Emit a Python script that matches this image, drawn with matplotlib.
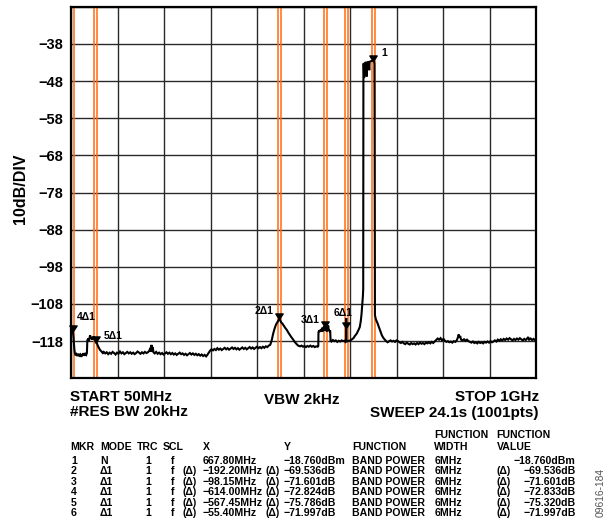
import numpy as np
import matplotlib
matplotlib.use("Agg")
import matplotlib.pyplot as plt

plt.rcParams['font.family'] = ['Liberation Sans', 'DejaVu Sans']
plt.rcParams['font.weight'] = 'bold'

# ---------------- data ----------------
START_MHZ = 50.0
STOP_MHZ = 1000.0
Y_TICKS = [-118, -108, -98, -88, -78, -68, -58, -48, -38]
Y_MIN, Y_MAX = -128, -28
DISPLAY_OFFSET = -23.74   # screen level minus marker dBm reading
BAND_WIDTH_MHZ = 6.0

FREQ_MHZ = [
    50.0, 51.0, 52.0, 53.0, 54.0, 55.0, 56.0, 57.0, 58.0, 59.5,
    61, 63, 65, 67, 69, 71, 73, 75, 77, 79, 81, 82.5, 83.4, 85, 86.5, 88, 89, 90.5,
    92, 93.5, 95, 96.5, 98, 99.5, 100.4, 101.5, 103, 105, 107, 109, 111, 113, 115,
    117, 120, 123, 126, 129, 132, 135, 138, 141, 144, 147, 150, 153, 156, 159, 162,
    165, 168, 171, 174, 177, 180, 183, 186, 189, 192, 195, 198, 201, 204, 207, 210,
    212, 213, 214.5, 215.5, 217, 218.5,
    221, 224, 227, 230, 233, 236, 239, 242, 245, 248, 251, 254, 257, 260, 263, 266,
    269, 272, 275, 278, 281, 284, 287, 290, 293, 296, 299, 302, 305, 308, 311, 314,
    317, 320, 323, 326, 328,
    331, 334, 337, 340, 343, 346, 349, 352, 355, 358, 361, 364, 367, 370, 373, 376,
    379, 382, 385, 388, 391, 394, 397, 400, 403, 406, 409, 412, 415, 418, 421, 424,
    427, 430, 433, 436, 439, 442, 445, 448, 451, 454, 457, 460, 463, 466, 469, 472,
    474, 475.6, 477, 479, 482, 485, 488, 491, 494, 497, 500, 504, 507, 511, 514, 518,
    521, 524, 527, 530, 533, 536, 539, 542, 545, 548, 551, 554, 555.2, 555.6, 557,
    558.5, 560, 561.5, 563, 564, 565.5, 567, 568, 569.6, 571, 572.5, 574, 575.5,
    576.5, 578, 579.5, 580.3, 582, 585, 588, 591, 594, 597, 600, 603, 606, 608.5,
    610.5, 611.8, 612.2, 612.6, 614, 617, 620, 623, 627, 630, 633.6, 637, 640, 642,
    643.5, 645, 646.3, 647.0, 647.4, 648.2, 648.8, 649.4, 651, 652.6, 653.4, 654,
    654.7, 656.5, 658.2, 659.4, 660.2, 662, 664, 666, 667.8, 669.2, 669.9, 670.3,
    670.9, 673, 676, 679, 682, 685, 688, 691, 694, 697, 700, 703, 706, 709, 712, 715,
    718, 721, 724, 727, 730, 733, 736, 739, 742, 745, 748, 751, 754, 757, 760, 763,
    766, 769, 772, 775, 778, 781, 784, 787, 790, 793, 796, 799, 802, 805, 808, 811,
    814, 817, 820, 823, 826, 829, 832, 835, 838, 840.5, 842, 843.5, 845, 847, 850,
    853, 856, 859, 862, 865, 868, 871, 874, 877, 880, 883, 886, 889, 892, 895, 898,
    901, 904, 907, 910, 913, 916, 919, 922, 925, 928, 931, 934, 937, 940, 943, 946,
    949, 952, 955, 958, 961, 964, 967, 970, 973, 976, 979, 982, 984, 986, 989, 992,
    995, 998, 1000,
]
LEVEL_DB = [
    -113.6, -114.3, -114.8, -115.2, -115.6, -116.8, -118.6, -120.4, -121.3, -121.8,
    -121.5, -122.0, -121.4, -121.9, -121.6, -122.2, -121.7, -121.3, -121.9, -121.4, -121.7, -121.2, -117.8, -117.3, -118.0, -117.1, -116.4, -117.4,
    -116.9, -117.6, -117.2, -116.7, -117.5, -117.9, -118.2, -118.0, -118.6, -119.3, -119.8, -120.3, -120.6, -120.9, -121.2,
    -120.9, -121.3, -121.0, -121.5, -121.1, -121.4, -120.9, -121.2, -121.6, -121.1, -121.4, -120.8, -121.3, -121.0, -121.5, -121.2,
    -120.9, -121.3, -121.0, -121.4, -121.1, -121.5, -121.2, -120.8, -121.1, -121.4, -121.0, -121.3, -120.9, -121.2, -121.0, -120.6,
    -119.8, -120.9, -119.0, -120.7, -119.6, -121.0,
    -121.3, -120.9, -121.4, -121.1, -121.5, -121.2, -121.6, -121.3, -121.0, -121.4, -121.1, -121.5, -121.2, -121.6, -121.3, -121.7,
    -121.4, -121.1, -121.5, -121.3, -121.7, -121.4, -121.8, -121.5, -121.2, -121.6, -121.3, -121.7, -121.4, -121.8, -121.5, -121.9,
    -121.6, -122.0, -121.7, -122.1, -121.8,
    -121.2, -120.6, -120.2, -120.5, -120.1, -120.4, -119.9, -120.3, -120.0, -120.4, -120.1, -119.8, -120.2, -119.9, -120.3, -120.0,
    -119.7, -120.1, -119.8, -120.2, -119.9, -120.3, -120.0, -119.7, -120.1, -119.8, -120.2, -119.9, -119.6, -120.0, -119.7, -120.1,
    -119.8, -119.5, -119.9, -119.6, -119.9, -119.5, -119.8, -119.4, -119.6, -119.2, -119.0, -117.8, -116.0, -114.6, -113.5, -112.8,
    -112.3, -112.0, -112.3, -112.9, -113.3, -113.9, -114.5, -115.0, -115.7, -116.3, -116.9, -117.6, -118.2, -118.8, -119.2, -119.4,
    -119.2, -119.5, -119.3, -119.6, -119.3, -119.5, -119.2, -119.5, -119.3, -119.6, -119.4, -119.5, -119.3, -115.6, -115.1,
    -115.5, -114.9, -115.3, -114.4, -115.4, -114.7, -113.9, -115.2, -114.1, -114.3, -115.4, -114.5, -113.8,
    -115.0, -115.3, -115.1, -117.9, -118.1, -117.7, -118.0, -117.8, -118.2, -117.9, -118.1, -117.8, -118.0, -117.9,
    -118.2, -117.9, -111.8, -118.0, -118.1, -117.9, -117.9, -117.6, -117.2, -116.6, -116.0, -115.1, -114.2, -112.6,
    -110.8, -108.4, -106.0, -104.0, -43.6, -43.2, -47.2, -43.3, -43.1, -43.4, -43.0, -46.8,
    -43.0, -42.9, -43.2, -45.1, -42.8, -42.7, -42.6, -42.5, -42.5, -42.8, -43.4, -62.0,
    -111.0, -112.2, -113.1, -114.2, -115.3, -116.4, -117.1, -117.6, -118.0, -118.3, -118.0, -117.8, -118.1, -117.9, -118.2, -117.8,
    -118.0, -118.3, -118.5, -118.2, -118.6, -118.8, -118.4, -118.7, -118.9, -118.5, -118.8, -118.6, -118.9, -118.5, -118.8, -118.4,
    -118.7, -118.5, -118.8, -118.4, -118.6, -118.3, -118.6, -118.2, -118.5, -118.1, -117.7, -117.3, -117.6, -117.2, -117.8, -117.4,
    -117.9, -118.2, -118.0, -118.3, -118.1, -118.4, -118.0, -118.2, -117.8, -117.0, -116.2, -117.1, -116.6, -117.6, -117.8,
    -117.5, -117.9, -117.6, -118.0, -118.2, -118.4, -118.1, -118.5, -118.3, -118.6, -118.2, -118.5, -118.3, -118.6, -118.2, -118.4,
    -118.1, -118.4, -118.0, -118.3, -118.1, -117.8, -118.1, -117.6, -117.9, -117.5, -117.8, -117.4, -117.7, -117.3, -117.6, -117.2,
    -117.5, -117.8, -117.4, -117.7, -117.3, -117.6, -117.2, -117.5, -117.8, -117.4, -117.7, -117.3, -116.9, -117.6, -117.3, -117.7,
    -117.4, -117.8, -117.6,
]

MKR_ID = ['1', '2', '3', '4', '5', '6']
MKR_MODE = ['N', 'Δ1', 'Δ1', 'Δ1', 'Δ1', 'Δ1']
MKR_X_MHZ = [667.80, -192.20, -98.15, -614.00, -567.45, -55.40]
MKR_Y_DB = [-18.760, -69.536, -71.601, -72.824, -75.786, -71.997]
FUNC_VALUE_DB = [-18.760, -69.536, -71.601, -72.833, -75.320, -71.997]
MKR_LABELS = ['1', '2Δ1', '3Δ1', '4Δ1', '5Δ1', '6Δ1']

# ---------------- figure ----------------
W, H = 608, 521
fig = plt.figure(figsize=(W / 100, H / 100), dpi=100)
ax = fig.add_axes([71 / W, 1 - 378.3 / H, 465 / W, 371.6 / H])


def px(x, y):
    return x / W, 1 - y / H


ax.set_xlim(START_MHZ, STOP_MHZ)
ax.set_ylim(Y_MIN, Y_MAX)
ax.set_xticks(np.linspace(START_MHZ, STOP_MHZ, 11))
ax.set_xticklabels([])
ax.set_yticks([Y_MIN] + Y_TICKS + [Y_MAX])
ax.set_yticklabels([''] + [str(t).replace('-', '\u2212') for t in Y_TICKS] + [''])
ax.tick_params(length=0, labelsize=10.5, pad=5.8)
for lab in ax.get_yticklabels():
    lab.set_fontweight('bold')
ax.grid(True, color='#2a2a2a', lw=1.0)
ax.set_axisbelow(True)
for s in ax.spines.values():
    s.set_linewidth(1.6)
    s.set_color('black')

# absolute marker positions
mkr_f = [MKR_X_MHZ[0]] + [MKR_X_MHZ[0] + d for d in MKR_X_MHZ[1:]]
mkr_lvl = [MKR_Y_DB[0]] + [MKR_Y_DB[0] + d for d in MKR_Y_DB[1:]]
mkr_disp = [v + DISPLAY_OFFSET for v in mkr_lvl]

# band power edges
for f in mkr_f:
    for e in (f - BAND_WIDTH_MHZ / 2, f + BAND_WIDTH_MHZ / 2):
        ax.axvline(e, color='#FF6A10', lw=1.1, zorder=2)

ax.plot(FREQ_MHZ, LEVEL_DB, color='black', lw=1.5, zorder=3, solid_joinstyle='miter')

tri = [(0, 0), (-0.66, 1), (0.66, 1), (0, 0)]
ax.plot(mkr_f, mkr_disp, linestyle='none', marker=tri, markersize=8,
        color='black', zorder=4, clip_on=False)

label_offsets = [(6, 3.1, 'left'), (-4.5, 3.4, 'right'), (-3.9, 2.4, 'right'),
                 (3.2, 8.0, 'left'), (6, 2.4, 'left'), (-2.0, 9.0, 'center')]
for f, v, lab, (dx, dy, ha) in zip(mkr_f, mkr_disp, MKR_LABELS, label_offsets):
    ax.annotate(lab, (f, v), xytext=(dx, dy), textcoords='offset points',
                ha=ha, va='baseline', fontsize=7.5, fontweight='bold', zorder=5)

# y label
fig.text(*px(21, 189), '10dB/DIV', rotation=90, ha='center', va='center',
         fontsize=11.5, fontweight='bold')

# sweep info
big = dict(fontsize=11, fontweight='bold', va='baseline')
fig.text(*px(70.5, 401), 'START 50MHz', ha='left', **big)
fig.text(*px(70.5, 416.5), '#RES BW 20kHz', ha='left', **big)
fig.text(*px(302, 403.5), 'VBW 2kHz', ha='center', **big)
fig.text(*px(539, 401), 'STOP 1GHz', ha='right', **big)
fig.text(*px(538.5, 416.5), 'SWEEP 24.1s (1001pts)', ha='right', **big)

# marker table
small = dict(fontsize=7.6, fontweight='bold', va='baseline')
fig.text(*px(434.3, 438.5), 'FUNCTION', ha='left', **small)
fig.text(*px(496.7, 438.5), 'FUNCTION', ha='left', **small)
hdr_y = 449.8
for x, t in [(70.7, 'MKR'), (100, 'MODE'), (136.7, 'TRC'), (162.7, 'SCL'),
             (202.7, 'X'), (284, 'Y'), (352.3, 'FUNCTION'), (434.3, 'WIDTH'),
             (496.7, 'VALUE')]:
    fig.text(*px(x, hdr_y), t, ha='left', **small)


def mstr(v, fmt):
    return format(v, fmt).replace('-', '\u2212')


for i in range(len(MKR_ID)):
    y = 464 + i * 10.4
    rel = i > 0
    fig.text(*px(71, y), MKR_ID[i], ha='left', **small)
    fig.text(*px(100, y), MKR_MODE[i], ha='left', **small)
    fig.text(*px(145, y), '1', ha='left', **small)
    fig.text(*px(170.5, y), 'f', ha='left', **small)
    if rel:
        fig.text(*px(182.7, y), '(Δ)', ha='left', **small)
        fig.text(*px(265, y), '(Δ)', ha='left', **small)
        fig.text(*px(496.7, y), '(Δ)', ha='left', **small)
    fig.text(*px(202.7, y), mstr(MKR_X_MHZ[i], '.2f') + 'MHz', ha='left', **small)
    unit = 'dB' if rel else 'dBm'
    fig.text(*px(284, y), mstr(MKR_Y_DB[i], '.3f') + unit, ha='left', **small)
    fig.text(*px(352.3, y), 'BAND POWER', ha='left', **small)
    fig.text(*px(434.3, y), f'{BAND_WIDTH_MHZ:.0f}MHz', ha='left', **small)
    fig.text(*px(575.7, y), mstr(FUNC_VALUE_DB[i], '.3f') + unit, ha='right', **small)

fig.text(*px(601, 492.5), '09616-184', rotation=90, ha='center', va='center',
         fontsize=7.4, fontweight='normal', color='#555555')

fig.savefig('out.png', dpi=100)
